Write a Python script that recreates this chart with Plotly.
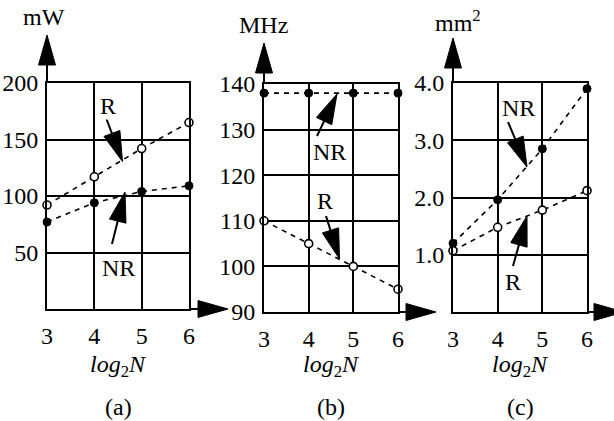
import plotly.graph_objects as go

W, H = 614, 421
FONT = "Liberation Serif"
FS = 24

# ---------------- data ----------------
log2n = [3, 4, 5, 6]

power_R = [92, 117, 142, 165]      # mW, open circles
power_NR = [77, 94, 104, 109]      # mW, filled circles

freq_NR = [138, 138, 138, 138]     # MHz, filled
freq_R = [110, 105, 100, 95]       # MHz, open

area_NR = [1.2, 1.96, 2.85, 3.9]   # mm^2, filled
area_R = [1.07, 1.48, 1.78, 2.12]  # mm^2, open

ticks_a = [50, 100, 150, 200]
ticks_a_text = ["50", "100", "150", "200"]
ticks_b = [90, 100, 110, 120, 130, 140]
ticks_b_text = ["90", "100", "110", "120", "130", "140"]
ticks_c = [1, 2, 3, 4]
ticks_c_text = ["1.0", "2.0", "3.0", "4.0"]

units = ["mW", "MHz", "mm<sup>2</sup>"]
captions = ["(a)", "(b)", "(c)"]

# ---------------- layout geometry (pixels) ----------------
boxes = [(47, 189, 83, 309), (264, 398, 84, 312), (453, 587, 83, 312)]
yranges = [[0, 200], [90, 140], [0, 4]]


def px(x):
    return x / W


def py(y):
    return 1 - y / H


fig = go.Figure()

axis_common = dict(
    showgrid=True, gridcolor="black", gridwidth=2,
    showline=True, linecolor="black", linewidth=2, mirror=True,
    zeroline=False, ticks="", fixedrange=True, automargin=False,
    tickfont=dict(family=FONT, size=FS, color="black"),
)

for i, (l, r, t, b) in enumerate(boxes):
    sfx = "" if i == 0 else str(i + 1)
    fig.layout["xaxis" + sfx] = dict(
        axis_common, domain=[px(l), px(r)], range=[3, 6],
        tickvals=log2n, anchor="y" + sfx, ticklabelstandoff=4,
    )
    tv = [ticks_a, ticks_b, ticks_c][i]
    tt = [ticks_a_text, ticks_b_text, ticks_c_text][i]
    fig.layout["yaxis" + sfx] = dict(
        axis_common, domain=[py(b), py(t)], range=yranges[i],
        tickvals=tv, ticktext=tt, anchor="x" + sfx, ticklabelstandoff=2,
    )

line_style = dict(color="black", width=1.6, dash="5px,5px")
open_marker = dict(symbol="circle", size=8, color="white",
                   line=dict(color="black", width=1.6))
filled_marker = dict(symbol="circle", size=8, color="black",
                     line=dict(color="black", width=1))

series = [
    (power_R, open_marker, "x", "y"),
    (power_NR, filled_marker, "x", "y"),
    (freq_NR, filled_marker, "x2", "y2"),
    (freq_R, open_marker, "x2", "y2"),
    (area_NR, filled_marker, "x3", "y3"),
    (area_R, open_marker, "x3", "y3"),
]
for vals, mk, xa, ya in series:
    fig.add_trace(go.Scatter(
        x=log2n, y=vals, mode="lines+markers", line=line_style,
        marker=mk, xaxis=xa, yaxis=ya, cliponaxis=False,
        showlegend=False, hoverinfo="skip",
    ))

shapes = []
annotations = []


def arrow(tail, tip, head_len=30, head_w=17, shaft=True):
    """filled triangular head (and optional shaft) in pixel coords -> paper"""
    (x0, y0), (x1, y1) = tail, tip
    dx, dy = x1 - x0, y1 - y0
    n = (dx * dx + dy * dy) ** 0.5
    ux, uy = dx / n, dy / n
    bx, by = x1 - ux * head_len, y1 - uy * head_len
    nx, ny = -uy * head_w / 2, ux * head_w / 2
    if shaft:
        shapes.append(dict(type="line", xref="paper", yref="paper",
                           x0=px(x0), y0=py(y0), x1=px(bx), y1=py(by),
                           line=dict(color="black", width=2)))
    path = "M {},{} L {},{} L {},{} Z".format(
        px(x1), py(y1), px(bx + nx), py(by + ny), px(bx - nx), py(by - ny))
    shapes.append(dict(type="path", xref="paper", yref="paper", path=path,
                       fillcolor="black", line=dict(color="black", width=1)))


# axis arrows
x_tips = [228, 436, 624]
y_tips = [35, 43, 38]
for i, (l, r, t, b) in enumerate(boxes):
    arrow((r, b), (x_tips[i], b))
    arrow((l, t), (l, y_tips[i]))

# pointer arrows and their labels: (text, label center, tail, tip)
pointers = [
    ("R", (108, 106), (106.5, 119), (122.5, 161.5)),
    ("NR", (118, 268), (112, 244), (125, 192)),
    ("NR", (329, 152), (317, 136), (337, 94)),
    ("R", (325, 201), (326, 216), (339.5, 259)),
    ("NR", (518, 108), (508, 122), (527, 167)),
    ("R", (513, 282), (513, 266), (527, 216)),
]
for text, (lx, ly), tail, tip in pointers:
    arrow(tail, tip)
    annotations.append(dict(
        text=text, x=px(lx), y=py(ly), xref="paper", yref="paper",
        showarrow=False, xanchor="center", yanchor="middle",
        font=dict(family=FONT, size=FS, color="black"),
        bgcolor="white", borderpad=0,
    ))

# units, axis titles, captions
unit_pos = [(44, 17), (263, 25), (458, 21)]
for i, (l, r, t, b) in enumerate(boxes):
    ux, uy = unit_pos[i]
    annotations.append(dict(
        text=units[i], x=px(ux), y=py(uy), xref="paper", yref="paper",
        showarrow=False, xanchor="center", yanchor="middle",
        font=dict(family=FONT, size=FS, color="black")))
    cx = (l + r) / 2
    annotations.append(dict(
        text="<i>log</i><sub>2</sub><i>N</i>", x=px(cx), y=py(366),
        xref="paper", yref="paper", showarrow=False,
        xanchor="center", yanchor="middle",
        font=dict(family=FONT, size=FS, color="black")))
    annotations.append(dict(
        text=captions[i], x=px(cx), y=py(407), xref="paper", yref="paper",
        showarrow=False, xanchor="center", yanchor="middle",
        font=dict(family=FONT, size=FS, color="black")))

fig.update_layout(
    width=W, height=H, margin=dict(l=0, r=0, t=0, b=0, pad=0),
    paper_bgcolor="white", plot_bgcolor="white",
    shapes=shapes, annotations=annotations, showlegend=False,
    font=dict(family=FONT, size=FS, color="black"),
)

fig.write_html(
    "out.html",
    config={"displayModeBar": False, "staticPlot": True},
    post_script="document.body.style.margin='0';document.body.style.overflow='hidden';",
)
